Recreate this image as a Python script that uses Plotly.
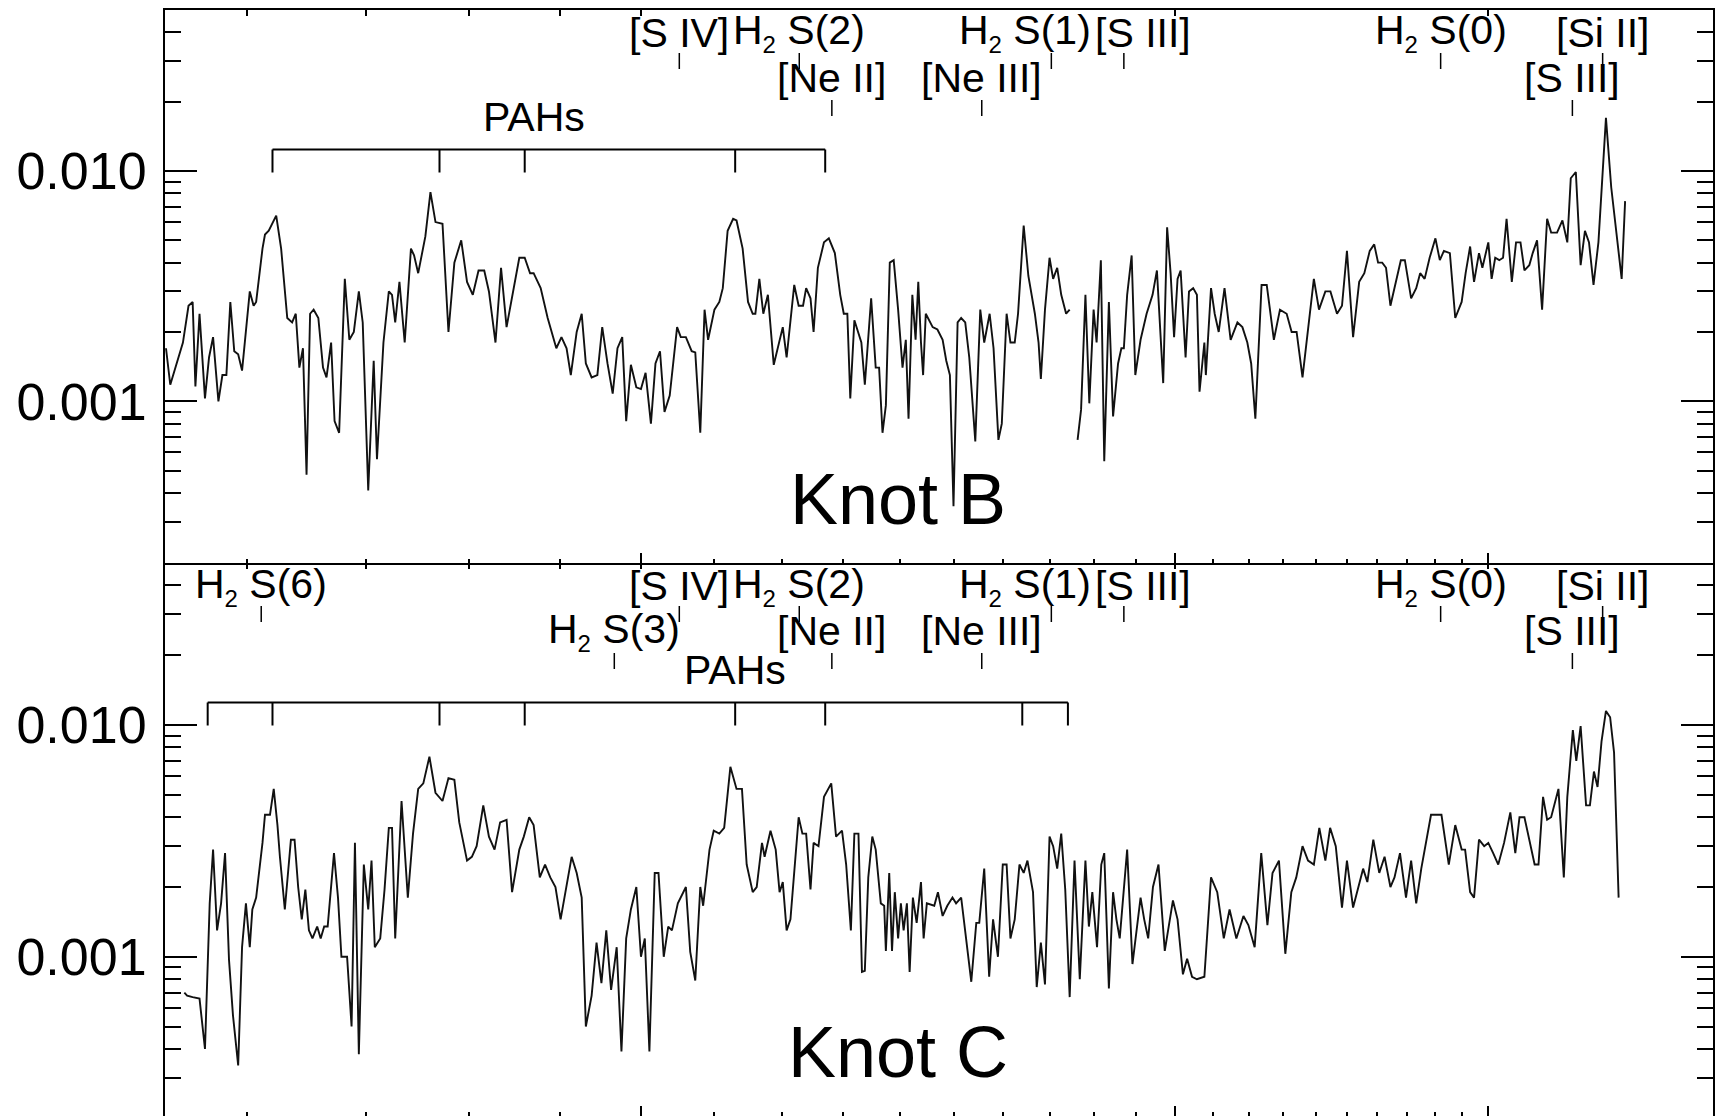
import math
import plotly.graph_objects as go

# ---------------- data (wavelength in micron, flux density) ----------------
wl_b = [5.40, 5.43, 5.52, 5.56, 5.59, 5.61, 5.64, 5.68, 5.71, 5.74,
        5.78, 5.81, 5.84, 5.87, 5.90, 5.93, 5.96, 6.02, 6.05, 6.07,
        6.12, 6.14, 6.17, 6.23, 6.27, 6.32, 6.36, 6.39, 6.42, 6.45,
        6.48, 6.51, 6.54, 6.58, 6.62, 6.65, 6.69, 6.72, 6.76, 6.81,
        6.85, 6.89, 6.935, 6.97, 7.02, 7.07, 7.10, 7.16, 7.21, 7.24,
        7.27, 7.31, 7.36, 7.42, 7.45, 7.49, 7.56, 7.61, 7.66, 7.73,
        7.79, 7.85, 7.92, 7.98, 8.04, 8.10, 8.16, 8.21, 8.28, 8.34,
        8.40, 8.47, 8.54, 8.60, 8.66, 8.70, 8.78, 8.86, 8.96, 9.02,
        9.08, 9.13, 9.20, 9.26, 9.31, 9.38, 9.45, 9.51, 9.575, 9.64,
        9.70, 9.76, 9.81, 9.87, 9.94, 10.00, 10.06, 10.13, 10.19, 10.25,
        10.31, 10.38, 10.48, 10.53, 10.60, 10.68, 10.73, 10.80, 10.86, 10.91,
        11.00, 11.07, 11.12, 11.19, 11.27, 11.32, 11.41, 11.49, 11.56, 11.60,
        11.66, 11.72, 11.79, 11.88, 11.96, 12.02, 12.08, 12.14, 12.20, 12.27,
        12.34, 12.39, 12.46, 12.51, 12.58, 12.68, 12.76, 12.86, 12.95, 13.01,
        13.07, 13.12, 13.19, 13.31, 13.37, 13.48, 13.56, 13.62, 13.68, 13.74,
        13.81, 13.88, 13.96, 14.04, 14.10, 14.15, 14.22, 14.28, 14.33, 14.38,
        14.42, 14.47,
        14.60, 14.69, 14.79, 14.86, 14.93, 15.00, 15.08, 15.15, 15.23, 15.31,
        15.43, 15.53, 15.61, 15.66, 15.72, 15.80, 15.90, 15.97, 16.07, 16.15,
        16.24, 16.31, 16.43, 16.53, 16.67, 16.75, 16.80, 16.89, 16.99, 17.07,
        17.16, 17.25, 17.36, 17.44, 17.53, 17.62, 17.70, 17.80, 17.89, 17.99,
        18.06, 18.16, 18.24, 18.35, 18.45, 18.57, 18.65, 18.71, 18.79, 18.90,
        18.99, 19.12, 19.27, 19.42, 19.53, 19.69, 19.79, 19.88, 19.97, 20.06,
        20.14, 20.27, 20.36, 20.47, 20.57, 20.64, 20.77, 20.81, 20.95, 21.05,
        21.16, 21.32, 21.49, 21.68, 21.82, 21.96, 22.07, 22.19, 22.37, 22.52,
        22.73, 22.91, 23.11, 23.26, 23.41, 23.59, 23.79, 23.94, 24.10, 24.30,
        24.46, 24.67, 24.83, 24.99, 25.19, 25.39, 25.56, 25.74, 25.89, 26.02,
        26.16, 26.29, 26.44, 26.65, 26.80, 26.94, 27.16, 27.34, 27.48, 27.64,
        27.82, 28.03, 28.19, 28.34, 28.56, 28.76, 29.00, 29.15, 29.32, 29.47,
        29.66, 29.79, 30.02, 30.15, 30.29, 30.45, 30.60, 30.74, 30.95, 31.12,
        31.30, 31.46, 31.66, 31.80, 31.98, 32.19, 32.40, 32.57, 32.82, 33.05,
        33.26, 33.41, 33.63, 33.84, 34.03, 34.21, 34.41, 34.63, 34.97, 35.21,
        35.46, 35.69, 35.85]

flux_b = [0.0017, 0.00118, 0.0018, 0.0026, 0.0027, 0.00116, 0.0024, 0.00103, 0.00155, 0.0019,
          0.0010, 0.0013, 0.0013, 0.0027, 0.00165, 0.0016, 0.00136, 0.0030, 0.0026, 0.0027,
          0.0046, 0.0053, 0.0055, 0.0064, 0.0046, 0.0023, 0.0022, 0.0024, 0.0014, 0.0017,
          0.00048, 0.0024, 0.0025, 0.0023, 0.0014, 0.00127, 0.0018, 0.00082, 0.00073, 0.0034,
          0.00185, 0.0020, 0.0030, 0.0022, 0.00041, 0.0015, 0.00056, 0.0018, 0.0030, 0.0029,
          0.0022, 0.0033, 0.0018, 0.0046, 0.0043, 0.0036, 0.0052, 0.0081, 0.0060, 0.0059,
          0.0020, 0.0040, 0.0050, 0.0033, 0.0029, 0.0037, 0.0037, 0.0030, 0.0018, 0.0038,
          0.0021, 0.0030, 0.0042, 0.0042, 0.0036, 0.0036, 0.0031, 0.0023, 0.0017, 0.0019,
          0.0017, 0.0013, 0.0020, 0.0024, 0.00146, 0.00127, 0.0013, 0.0021, 0.00146, 0.00108,
          0.0017, 0.0019, 0.00082, 0.00144, 0.00115, 0.00113, 0.00133, 0.0008, 0.00146, 0.00165,
          0.0009, 0.00106, 0.0021, 0.0019, 0.0019, 0.00165, 0.00163, 0.00073, 0.0025, 0.00185,
          0.0025, 0.0027, 0.0031, 0.0055, 0.0062, 0.0061, 0.0046, 0.0027, 0.0024, 0.0024,
          0.0034, 0.0024, 0.0029, 0.00144, 0.0018, 0.0021, 0.00155, 0.0022, 0.0032, 0.0026,
          0.0026, 0.0031, 0.0028, 0.0020, 0.0038, 0.0049, 0.0051, 0.0044, 0.0029, 0.0024,
          0.0024, 0.00103, 0.00225, 0.0018, 0.00118, 0.0028, 0.0014, 0.0014, 0.00073, 0.00096,
          0.0040, 0.0041, 0.0025, 0.0014, 0.00185, 0.00084, 0.0029, 0.00185, 0.0033, 0.0018,
          0.0013, 0.0024,
          0.0021, 0.00205, 0.00185, 0.0015, 0.0013, 0.00035, 0.0022, 0.0023, 0.0022, 0.00155,
          0.00067, 0.0025, 0.0018, 0.00205, 0.0024, 0.0017, 0.00068, 0.0008, 0.0024, 0.0018,
          0.0018, 0.0024, 0.0058, 0.0035, 0.0024, 0.0018, 0.00125, 0.0025, 0.0042, 0.0034,
          0.0038, 0.0029, 0.0024, 0.0025, None, 0.00068, 0.00092, 0.0029, 0.00098, 0.0025,
          0.0018, 0.0041, 0.00055, 0.0027, 0.00086, 0.00146, 0.0017, 0.0017, 0.0029, 0.0043,
          0.0013, 0.00185, 0.0024, 0.0029, 0.0037, 0.0012, 0.0057, 0.0036, 0.0019, 0.0034,
          0.0037, 0.00155, 0.0030, 0.0031, 0.0029, 0.0011, 0.0018, 0.0013, 0.0031, 0.0024,
          0.0020, 0.0031, 0.00185, 0.0022, 0.0021, 0.0018, 0.00146, 0.00084, 0.0032, 0.0032,
          0.00185, 0.0025, 0.0024, 0.0020, 0.0020, 0.00127, 0.0022, 0.0034, 0.0025, 0.0030,
          0.0030, 0.0024, 0.0026, 0.0045, 0.0019, 0.0033, 0.0036, 0.0045, 0.0048, 0.0040,
          0.0040, 0.0038, 0.0026, 0.0034, 0.0041, 0.0041, 0.0028, 0.0031, 0.0036, 0.0034,
          0.0042, 0.0051, 0.0041, 0.0045, 0.0044, 0.0023, 0.0027, 0.0036, 0.0047, 0.0033,
          0.0044, 0.0038, 0.0049, 0.0034, 0.0042, 0.0041, 0.0042, 0.0062, 0.0033, 0.0049,
          0.0049, 0.0037, 0.0039, 0.0044, 0.0050, 0.0025, 0.0062, 0.0054, 0.0054, 0.0061,
          0.0049, 0.0093, 0.0099, 0.0039, 0.0055, 0.0049, 0.0032, 0.0049, 0.017, 0.0085,
          0.0054, 0.0034, 0.0074]

wl_c = [5.53, 5.55, 5.59, 5.64, 5.68, 5.715, 5.74, 5.77, 5.80, 5.83,
        5.86, 5.89, 5.93, 5.96, 5.99, 6.02, 6.04, 6.07, 6.12, 6.14,
        6.18, 6.21, 6.24, 6.26, 6.30, 6.35, 6.38, 6.41, 6.44, 6.47,
        6.50, 6.53, 6.57, 6.60, 6.63, 6.66, 6.715, 6.75, 6.78, 6.83,
        6.87, 6.90, 6.935, 6.98, 7.02, 7.05, 7.08, 7.13, 7.17, 7.21,
        7.24, 7.27, 7.33, 7.39, 7.44, 7.49, 7.54, 7.60, 7.66, 7.73,
        7.79, 7.85, 7.90, 7.98, 8.03, 8.08, 8.15, 8.21, 8.27, 8.33,
        8.40, 8.46, 8.54, 8.59, 8.65, 8.70, 8.77, 8.83, 8.89, 8.95,
        9.01, 9.14, 9.20, 9.26, 9.31, 9.38, 9.44, 9.50, 9.56, 9.62,
        9.69, 9.75, 9.81, 9.87, 9.94, 10.00, 10.05, 10.11, 10.18, 10.23,
        10.30, 10.36, 10.41, 10.49, 10.60, 10.66, 10.73, 10.80, 10.84, 10.93,
        10.99, 11.07, 11.14, 11.23, 11.32, 11.40, 11.47, 11.56, 11.62, 11.70,
        11.74, 11.83, 11.91, 11.97, 12.02, 12.08, 12.14, 12.27, 12.33, 12.39,
        12.46, 12.51, 12.59, 12.68, 12.80, 12.88, 12.98, 13.05, 13.13, 13.19,
        13.26, 13.32, 13.37, 13.43, 13.50, 13.56, 13.65, 13.71, 13.74, 13.80,
        13.85, 13.90, 13.96, 14.01, 14.06, 14.12, 14.17, 14.23, 14.30, 14.38,
        14.43, 14.49,
        14.63, 14.70, 14.79, 14.88, 14.98, 15.05, 15.15, 15.25, 15.35, 15.45,
        15.51, 15.61, 15.71, 15.79, 15.89, 15.99, 16.07, 16.15, 16.24, 16.34,
        16.43, 16.51, 16.63, 16.71, 16.80, 16.89, 16.99, 17.07, 17.16, 17.25,
        17.34, 17.44, 17.55, 17.67, 17.80, 17.88, 17.96, 18.07, 18.17, 18.24,
        18.35, 18.45, 18.53, 18.61, 18.71, 18.79, 18.92, 19.02, 19.12, 19.21,
        19.31, 19.43, 19.57, 19.73, 19.94, 20.06, 20.20, 20.31, 20.44, 20.57,
        20.77, 20.95, 21.12, 21.30, 21.46, 21.65, 21.85, 21.99, 22.17, 22.36,
        22.54, 22.69, 22.88, 23.07, 23.25, 23.40, 23.59, 23.76, 23.94, 24.11,
        24.30, 24.45, 24.63, 24.83, 24.99, 25.19, 25.36, 25.52, 25.66, 25.86,
        26.06, 26.24, 26.44, 26.58, 26.77, 26.98, 27.16, 27.34, 27.52, 27.75,
        27.87, 28.25, 28.52, 28.76, 29.00, 29.13, 29.32, 29.47, 29.66, 29.86,
        30.02, 30.21, 30.41, 30.64, 30.89, 31.09, 31.26, 31.46, 31.70, 31.88,
        32.04, 32.23, 32.40, 32.57, 32.88, 33.11, 33.26, 33.50, 33.65, 33.84,
        34.08, 34.25, 34.43, 34.59, 34.77, 34.97, 35.16, 35.34, 35.55]

flux_c = [0.0007, 0.00068, 0.00067, 0.00066, 0.0004, 0.0017, 0.0029, 0.0013, 0.0017, 0.0028,
          0.00097, 0.00056, 0.00034, 0.0011, 0.0017, 0.0011, 0.0016, 0.0018, 0.0031, 0.0041,
          0.0041, 0.0053, 0.0037, 0.0027, 0.0016, 0.0032, 0.0032, 0.0020, 0.00145, 0.00195,
          0.0013, 0.0012, 0.00135, 0.0012, 0.00135, 0.00135, 0.0028, 0.0018, 0.0010, 0.0010,
          0.0005, 0.0031, 0.00038, 0.0025, 0.0016, 0.0026, 0.0011, 0.0012, 0.00195, 0.0036,
          0.0036, 0.0012, 0.0047, 0.0018, 0.0034, 0.0053, 0.0056, 0.0073, 0.0051, 0.0047,
          0.0059, 0.0058, 0.0038, 0.0026, 0.0027, 0.0030, 0.0045, 0.0033, 0.0029, 0.0038,
          0.0039, 0.0019, 0.0029, 0.0033, 0.0040, 0.0037, 0.0022, 0.0025, 0.0022, 0.0020,
          0.00145, 0.0027, 0.0023, 0.0018, 0.0005, 0.00068, 0.00115, 0.00077, 0.0013, 0.00072,
          0.0011, 0.00039, 0.0012, 0.0016, 0.0020, 0.0010, 0.0012, 0.00039, 0.0023, 0.0023,
          0.0010, 0.00135, 0.0013, 0.0017, 0.0020, 0.00105, 0.00079, 0.0020, 0.00166, 0.0029,
          0.0035, 0.0034, 0.0036, 0.0066, 0.0053, 0.0053, 0.0025, 0.0019, 0.0020, 0.0031,
          0.0027, 0.0035, 0.0029, 0.0019, 0.0021, 0.0013, 0.00145, 0.0040, 0.0034, 0.0034,
          0.00195, 0.0031, 0.0030, 0.0049, 0.0056, 0.0033, 0.0035, 0.0025, 0.0013, 0.0034,
          0.0034, 0.00086, 0.00087, 0.0022, 0.0033, 0.0029, 0.0017, 0.00166, 0.00106, 0.0023,
          0.00106, 0.0019, 0.0012, 0.0017, 0.0013, 0.0017, 0.00086, 0.0018, 0.0014, 0.0021,
          0.0012, 0.0017,
          0.00166, 0.0019, 0.0015, 0.00166, 0.0018, 0.0017, 0.0018, 0.00115, 0.00078, 0.0014,
          0.0014, 0.0024, 0.00082, 0.00145, 0.0010, 0.0025, 0.0025, 0.0012, 0.00145, 0.0025,
          0.0023, 0.0026, 0.0019, 0.00074, 0.00115, 0.00076, 0.0033, 0.0030, 0.0024, 0.0034,
          0.00195, 0.00067, 0.0026, 0.0008, 0.0026, 0.00135, 0.0019, 0.0011, 0.0025, 0.0028,
          0.00073, 0.0019, 0.00145, 0.0012, 0.00195, 0.0029, 0.00093, 0.0013, 0.0018, 0.00145,
          0.0012, 0.0020, 0.0025, 0.00106, 0.00175, 0.00145, 0.00084, 0.00098, 0.00082, 0.0008,
          0.00082, 0.0022, 0.0019, 0.0012, 0.0016, 0.0012, 0.0015, 0.00137, 0.0011, 0.0028,
          0.00137, 0.0023, 0.0026, 0.00103, 0.0019, 0.0022, 0.0030, 0.0026, 0.0025, 0.0036,
          0.0026, 0.0036, 0.0030, 0.00163, 0.0026, 0.00163, 0.0020, 0.0024, 0.0021, 0.0032,
          0.0023, 0.0027, 0.0020, 0.0022, 0.0028, 0.0018, 0.0026, 0.0017, 0.0024, 0.0034,
          0.0041, 0.0041, 0.0025, 0.0037, 0.0029, 0.0029, 0.0019, 0.0018, 0.0032, 0.0030,
          0.0031, 0.0028, 0.0025, 0.0031, 0.0042, 0.0028, 0.0040, 0.0040, 0.0030, 0.0025,
          0.0025, 0.0049, 0.0039, 0.0040, 0.0053, 0.0022, 0.0049, 0.0095, 0.0070, 0.0099,
          0.0045, 0.0045, 0.0063, 0.0054, 0.0085, 0.0115, 0.0108, 0.0076, 0.0018]

assert len(wl_b) == len(flux_b), (len(wl_b), len(flux_b))
assert len(wl_c) == len(flux_c), (len(wl_c), len(flux_c))

# emission lines: label, rest wavelength (micron), label row
SUB2 = "H<sub><span style='font-size:24px'>2</span></sub>"
line_labels = ["[S IV]", SUB2 + " S(2)", SUB2 + " S(1)", "[S III]", SUB2 + " S(0)",
               "[Si II]", "[Ne II]", "[Ne III]", "[S III]", SUB2 + " S(6)", SUB2 + " S(3)"]
line_wl = [10.51, 12.28, 17.03, 18.71, 28.22, 34.82, 12.81, 15.56, 33.48, 6.11, 9.66]
line_row = [1, 1, 1, 1, 1, 1, 2, 2, 2, 1, 2]
line_in_knot_b = [True, True, True, True, True, True, True, True, True, False, False]

# PAH features marked by the brackets
pah_wl_b = [6.2, 7.7, 8.6, 11.3, 12.7]
pah_wl_c = [5.7, 6.2, 7.7, 8.6, 11.3, 12.7, 16.4, 17.4]

panel_names = ["Knot B", "Knot C"]

# axis tick values
x_major_ticks = [10, 20, 30]
x_minor_ticks = [6, 7, 8, 9] + list(range(11, 20)) + list(range(21, 30))
x_top_ticks = [6, 7, 8, 9, 10, 20, 30]
y_major_ticks = [0.001, 0.01]
y_major_text = ["0.001", "0.010"]
y_minor_ticks = [2e-4, 3e-4, 4e-4, 5e-4, 6e-4, 7e-4, 8e-4, 9e-4,
                 2e-3, 3e-3, 4e-3, 5e-3, 6e-3, 7e-3, 8e-3, 9e-3,
                 2e-2, 3e-2, 4e-2, 5e-2]

# ---------------- layout / style ----------------
FONT = "Liberation Sans, Arial, Helvetica, sans-serif"
W, H = 1723, 1116
ML, MR, MT, MB = 165, 10, 10, 0
PANEL_PX = (H - MT - MB) / 2.0
LINE_COLOR = "#111111"


def fy(px):
    """pixel offset below panel top -> domain fraction"""
    return 1 - px / PANEL_PX


ROW_LABEL_Y = {1: 23, 2: 68}
ROW_TICK = {1: (43, 59), 2: (90, 106)}
PAH_LABEL_Y = 107
PAH_BAR_Y = 139.5
PAH_TICK_END = 162.5
LABEL_SIZE = 41
# special horizontal placement of the crowded labels (pixels)
label_xshift = [0, 0, -26, 19, 0, 0, 0, 0, 0, 0, 0]
pah_label_wl = [8.7, 11.3]

XR = [math.log10(5.393), math.log10(40.18)]
YR = [[-3.702, -1.301], [-3.687, -1.301]]

fig = go.Figure()
fig.add_trace(go.Scatter(x=wl_b, y=flux_b, mode="lines", xaxis="x", yaxis="y",
                         line=dict(color=LINE_COLOR, width=1.9), connectgaps=False,
                         hoverinfo="skip", showlegend=False))
fig.add_trace(go.Scatter(x=wl_c, y=flux_c, mode="lines", xaxis="x2", yaxis="y2",
                         line=dict(color=LINE_COLOR, width=1.9), connectgaps=False,
                         hoverinfo="skip", showlegend=False))
# empty traces so that the top (mirror) axes exist
fig.add_trace(go.Scatter(x=[None], y=[None], xaxis="x3", yaxis="y", showlegend=False, hoverinfo="skip"))
fig.add_trace(go.Scatter(x=[None], y=[None], xaxis="x4", yaxis="y2", showlegend=False, hoverinfo="skip"))


def make_x_bottom(anchor, showline):
    return dict(type="log", range=XR, domain=[0, 1], anchor=anchor, showline=showline,
                linecolor="black", linewidth=2, ticks="inside", tickmode="array",
                tickvals=x_major_ticks, ticklen=10, tickwidth=2, tickcolor="black",
                showticklabels=False, showgrid=False, zeroline=False,
                minor=dict(tickmode="array", tickvals=x_minor_ticks, ticks="inside", ticklen=4,
                           tickwidth=1.5, tickcolor="black", showgrid=False))


def make_x_top(overlay, anchor, showline):
    return dict(type="log", range=XR, overlaying=overlay, anchor=anchor, side="top",
                showline=showline, linecolor="black", linewidth=2, ticks="inside",
                tickmode="array", tickvals=x_top_ticks, ticklen=6, tickwidth=1.5,
                tickcolor="black", showticklabels=False, showgrid=False, zeroline=False)


def make_y(domain, rng, anchor):
    return dict(type="log", range=rng, domain=domain, anchor=anchor, showline=True,
                mirror="ticks", linecolor="black", linewidth=2, ticks="inside",
                tickmode="array", tickvals=y_major_ticks, ticktext=y_major_text, ticklen=32,
                tickwidth=2, tickcolor="black",
                tickfont=dict(family=FONT, size=52, color="black"), ticklabelstandoff=6,
                showgrid=False, zeroline=False,
                minor=dict(tickmode="array", tickvals=y_minor_ticks, ticks="inside", ticklen=16,
                           tickwidth=2, tickcolor="black", showgrid=False))


shapes = []
annotations = []
for p, (xref, yref) in enumerate([("x", "y domain"), ("x2", "y2 domain")]):
    # emission line markers
    for i, name in enumerate(line_labels):
        if p == 0 and not line_in_knot_b[i]:
            continue
        row = line_row[i]
        t0, t1 = ROW_TICK[row]
        shapes.append(dict(type="line", xref=xref, yref=yref, x0=line_wl[i], x1=line_wl[i],
                           y0=fy(t0), y1=fy(t1), line=dict(color="black", width=1.5)))
        annotations.append(dict(text=name, xref=xref, yref=yref, x=math.log10(line_wl[i]),
                                y=fy(ROW_LABEL_Y[row]), xanchor="center", yanchor="middle",
                                xshift=label_xshift[i], showarrow=False,
                                font=dict(family=FONT, size=LABEL_SIZE, color="black")))
    # PAH bracket
    pahs = pah_wl_b if p == 0 else pah_wl_c
    shapes.append(dict(type="line", xref=xref, yref=yref, x0=pahs[0], x1=pahs[-1],
                       y0=fy(PAH_BAR_Y), y1=fy(PAH_BAR_Y), line=dict(color="black", width=2)))
    for w in pahs:
        shapes.append(dict(type="line", xref=xref, yref=yref, x0=w, x1=w,
                           y0=fy(PAH_BAR_Y), y1=fy(PAH_TICK_END), line=dict(color="black", width=2)))
    annotations.append(dict(text="PAHs", xref=xref, yref=yref, x=math.log10(pah_label_wl[p]),
                            y=fy(PAH_LABEL_Y), xanchor="center", yanchor="middle",
                            showarrow=False, font=dict(family=FONT, size=LABEL_SIZE, color="black")))
    # panel name
    annotations.append(dict(text=panel_names[p], xref=xref + " domain", yref=yref,
                            x=0.4735, y=fy(489), xanchor="center", yanchor="middle",
                            showarrow=False, font=dict(family=FONT, size=72, color="black")))

fig.update_layout(
    width=W, height=H,
    margin=dict(l=ML, r=MR, t=MT, b=MB, pad=0),
    paper_bgcolor="white", plot_bgcolor="white",
    showlegend=False,
    font=dict(family=FONT, color="black"),
    xaxis=make_x_bottom("y", True),
    xaxis2=make_x_bottom("y2", False),
    xaxis3=make_x_top("x", "y", True),
    xaxis4=make_x_top("x2", "y2", False),
    yaxis=make_y([0.5, 1.0], YR[0], "x"),
    yaxis2=make_y([0.0, 0.5], YR[1], "x2"),
    shapes=shapes,
    annotations=annotations,
)

fig.write_html("out.html")
